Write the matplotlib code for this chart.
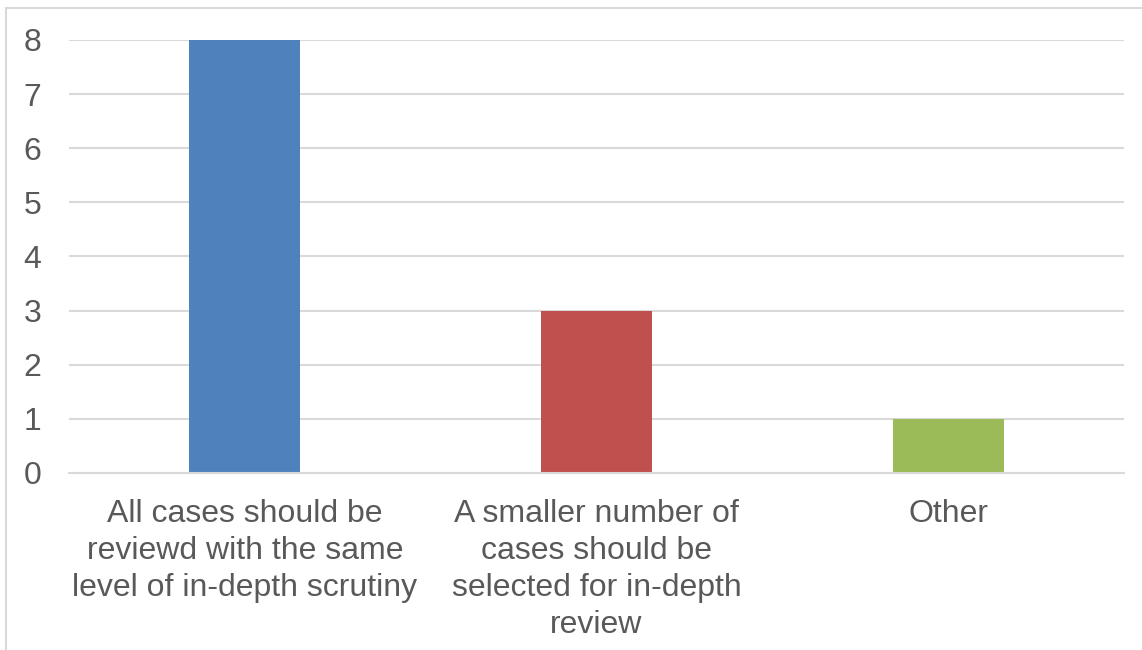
import matplotlib
matplotlib.use("Agg")
import matplotlib.pyplot as plt
from matplotlib.patches import Rectangle

categories = ["All cases should be\nreviewd with the same\nlevel of in-depth scrutiny",
              "A smaller number of\ncases should be\nselected for in-depth\nreview",
              "Other"]
values = [8, 3, 1]
colors = ["#4F81BD", "#C0504D", "#9BBB59"]
yticks = [0, 1, 2, 3, 4, 5, 6, 7, 8]

plt.rcParams['font.family'] = ['Liberation Sans', 'DejaVu Sans']
W, H = 1142, 650
fig = plt.figure(figsize=(W/100, H/100), dpi=100)
fig.patches.append(Rectangle((6/W, -0.1), 1.2, 1 - 8/H + 0.1, transform=fig.transFigure,
                             fill=False, edgecolor="#D9D9D9", linewidth=1.5))
ax = fig.add_axes([69/W, 1-473/H, (1124-69)/W, (473-40)/H])
x = list(range(len(categories)))
ax.bar(x, values, width=0.316, color=colors, zorder=3)
ax.set_xlim(-0.5, len(categories)-0.5)
ax.set_ylim(0, 8)
ax.set_yticks(yticks)
ax.set_yticklabels([str(t) for t in yticks])
ax.set_xticks(x)
ax.set_xticklabels(categories, linespacing=1.3)
ax.tick_params(axis='both', length=0, labelsize=23, labelcolor="#595959")
ax.tick_params(axis='y', pad=20)
ax.tick_params(axis='x', pad=19)
ax.grid(axis='y', color="#D9D9D9", linewidth=1.5, zorder=0)
for s in ["top", "right", "left"]:
    ax.spines[s].set_visible(False)
ax.spines["bottom"].set_color("#D9D9D9")
ax.spines["bottom"].set_linewidth(1.5)
ax.spines["bottom"].set_zorder(4)
fig.savefig("out.png", dpi=100)
